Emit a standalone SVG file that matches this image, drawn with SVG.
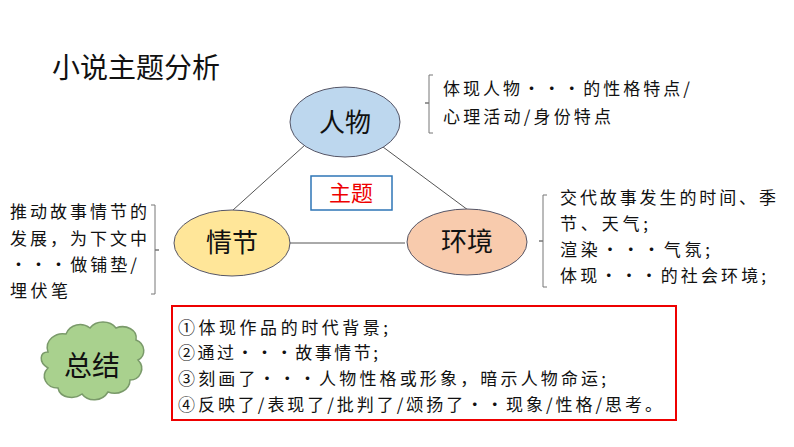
<svg xmlns="http://www.w3.org/2000/svg" width="794" height="447" viewBox="0 0 794 447">
<style>
text{font-family:"Noto Sans CJK SC",sans-serif;fill:#111}
.s{font-size:17px}
.n{font-size:26px}
.e{stroke:#556;stroke-width:1}
.br{fill:none;stroke:#777;stroke-width:1}
</style>
<rect width="794" height="447" fill="#fff"/>
<text x="52" y="78" font-size="28">小说主题分析</text>
<g id="connectors" stroke="#555" stroke-width="1">
<line x1="305" y1="145" x2="233" y2="210"/>
<line x1="383" y1="147" x2="468" y2="210"/>
<line x1="290" y1="243" x2="405" y2="243"/>
</g>
<g id="renwu"><ellipse cx="345" cy="122" rx="55" ry="35" fill="#bdd7ee" class="e"/><text x="345" y="132" class="n" text-anchor="middle">人物</text></g>
<g id="qingjie"><ellipse cx="232" cy="243" rx="58" ry="33" fill="#ffe699" class="e"/><text x="232" y="252" class="n" text-anchor="middle">情节</text></g>
<g id="huanjing"><ellipse cx="467" cy="242" rx="60" ry="33" fill="#f8cbad" class="e"/><text x="467" y="251" class="n" text-anchor="middle">环境</text></g>
<g id="zhuti"><rect x="311" y="176" width="81" height="34" fill="#fff" stroke="#2e75b6" stroke-width="1.5"/><text x="351" y="201" font-size="22" text-anchor="middle" style="fill:#e00">主题</text></g>
<g id="note-renwu">
<path class="br" d="M433 75h-4v28h-4h4v30h4"/>
<text x="443" y="95" class="s" textLength="247" lengthAdjust="spacing">体现人物···的性格特点/</text>
<text x="443" y="123" class="s" textLength="168" lengthAdjust="spacing">心理活动/身份特点</text>
</g>
<g id="note-qingjie">
<path class="br" d="M151 205h4v45h4h-4v44h-4"/>
<text x="10" y="218" class="s" textLength="137" lengthAdjust="spacing">推动故事情节的</text>
<text x="10" y="245" class="s" textLength="137" lengthAdjust="spacing">发展，为下文中</text>
<text x="10" y="271" class="s" textLength="127" lengthAdjust="spacing">···做铺垫/</text>
<text x="10" y="297" class="s" textLength="58" lengthAdjust="spacing">埋伏笔</text>
</g>
<g id="note-huanjing">
<path class="br" d="M547 195h-4v46h-4h4v46h4"/>
<text x="560" y="204" class="s" textLength="216" lengthAdjust="spacing">交代故事发生的时间、季</text>
<text x="560" y="230" class="s" textLength="88" lengthAdjust="spacing">节、天气;</text>
<text x="560" y="256" class="s" textLength="150" lengthAdjust="spacing">渲染···气氛;</text>
<text x="560" y="282" class="s" textLength="206" lengthAdjust="spacing">体现···的社会环境;</text>
</g>
<g id="zongjie">
<path d="M48 352c-4-12 8-20 18-18c4-10 16-12 24-6c6-8 20-8 26 0c10-4 22 2 20 12c10 4 10 16 2 20c8 8 2 20-8 20c0 10-12 16-22 12c-6 10-20 10-26 2c-8 6-22 4-24-6c-12 0-18-12-10-20c-10-6-8-16 0-16z" fill="#a9d18e" stroke="#7a9a6a" stroke-width="1.5"/>
<text x="92" y="376" font-size="28" text-anchor="middle">总结</text>
</g>
<g id="summary">
<rect x="172" y="306" width="504" height="114" fill="#fff" stroke="#e00" stroke-width="2"/>
<text x="178" y="334" class="s" textLength="210" lengthAdjust="spacing">①体现作品的时代背景;</text>
<text x="178" y="359" class="s" textLength="200" lengthAdjust="spacing">②通过···故事情节;</text>
<text x="178" y="385" class="s" textLength="428" lengthAdjust="spacing">③刻画了···人物性格或形象，暗示人物命运;</text>
<text x="178" y="411" class="s" textLength="484" lengthAdjust="spacing">④反映了/表现了/批判了/颂扬了··现象/性格/思考。</text>
</g>
</svg>
